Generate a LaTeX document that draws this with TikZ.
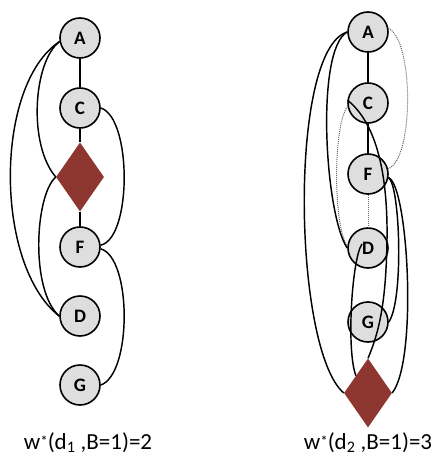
\documentclass[tikz,border=0pt]{standalone}
\usepackage{fontspec}
\setmainfont{Carlito}
\usetikzlibrary{shapes.geometric}
\definecolor{nodegray}{RGB}{222,222,222}
\definecolor{dmred}{RGB}{142,54,48}
\newcommand{\wstar}{w{\fontsize{15}{15}\selectfont\raisebox{0.35ex}{*}}}
\begin{document}
\begin{tikzpicture}[x=1pt,y=-1pt,
  vnode/.style={circle, draw=black, line width=1.6pt, fill=nodegray,
    minimum size=40pt, inner sep=0pt, font=\fontsize{19}{19}\selectfont\bfseries},
  dnode/.style={diamond, fill=dmred, minimum width=48pt, minimum height=69pt, inner sep=0pt},
  edge/.style={line width=1.45pt, black},
  dotedge/.style={line width=1pt, gray!80!black, densely dotted},
  lbl/.style={anchor=base, font=\fontsize{23}{23}\selectfont}]
\useasboundingbox (0,0) rectangle (437,457);

% ---- first ordering d1 ----
\node[vnode] (lA) at (80,38) {A};
\node[vnode] (lC) at (80,108) {C};
\node[dnode] (lX) at (80,177) {};
\node[vnode] (lF) at (80,247) {F};
\node[vnode] (lD) at (80,316) {D};
\node[vnode] (lG) at (80,385) {G};

\draw[edge] (lA) -- (lC);
\draw[edge] (lC) -- (lX);
\draw[edge] (lX) -- (lF);
\draw[edge] (lA.190) .. controls (-6,85) and (-6,265) .. (lD.west);
\draw[edge] (lA.190) .. controls (33,62) and (28,145) .. (lX.west);
\draw[edge] (lX.west) .. controls (35,195) and (30,290) .. (lD.west);
\draw[edge] (lC.east) .. controls (132,118) and (132,238) .. (lF.5);
\draw[edge] (lF.-5) .. controls (132,258) and (132,374) .. (lG.east);

% ---- second ordering d2 ----
\node[vnode] (rA) at (368,32) {A};
\node[vnode] (rC) at (368,103) {C};
\node[vnode] (rF) at (368,174) {F};
\node[vnode] (rD) at (368,248) {D};
\node[vnode] (rG) at (368,322) {G};
\node[dnode] (rX) at (368,393) {};

\coordinate (rDin) at (362,244);
\coordinate (rmid) at (387,240);

\draw[edge] (rA) -- (rC);
\draw[edge] (rC) -- (rF);
\draw[dotedge] (rF) -- (rD);
\draw[dotedge] (rA.10) .. controls (414,40) and (414,160) .. (rF.15);
\draw[dotedge] (rC.190) .. controls (333,125) and (333,225) .. (rD.175);
\draw[edge] (rA.180) .. controls (315,50) and (325,215) .. (rD.west);
\draw[edge] (rA.180) .. controls (288,50) and (293,350) .. (rX.west);
\draw[edge] (rDin) .. controls (352,258) and (346,350) .. (rX.north west);
\draw[edge] (rC.172) .. controls (375,122) and (388,170) .. (rmid)
  .. controls (386,300) and (380,330) .. (rX.north);
\draw[edge] (rF.-10) .. controls (400,185) and (404,300) .. (rG.east);
\draw[edge] (rF.-10) .. controls (408,185) and (418,360) .. (rX.east);

% ---- captions ----
\node[lbl] (lab1) at (88,449) {\wstar(d\textsubscript{1} ,B=1)=2};
\node[lbl] (lab2) at (368,449) {\wstar(d\textsubscript{2} ,B=1)=3};
\end{tikzpicture}
\end{document}
